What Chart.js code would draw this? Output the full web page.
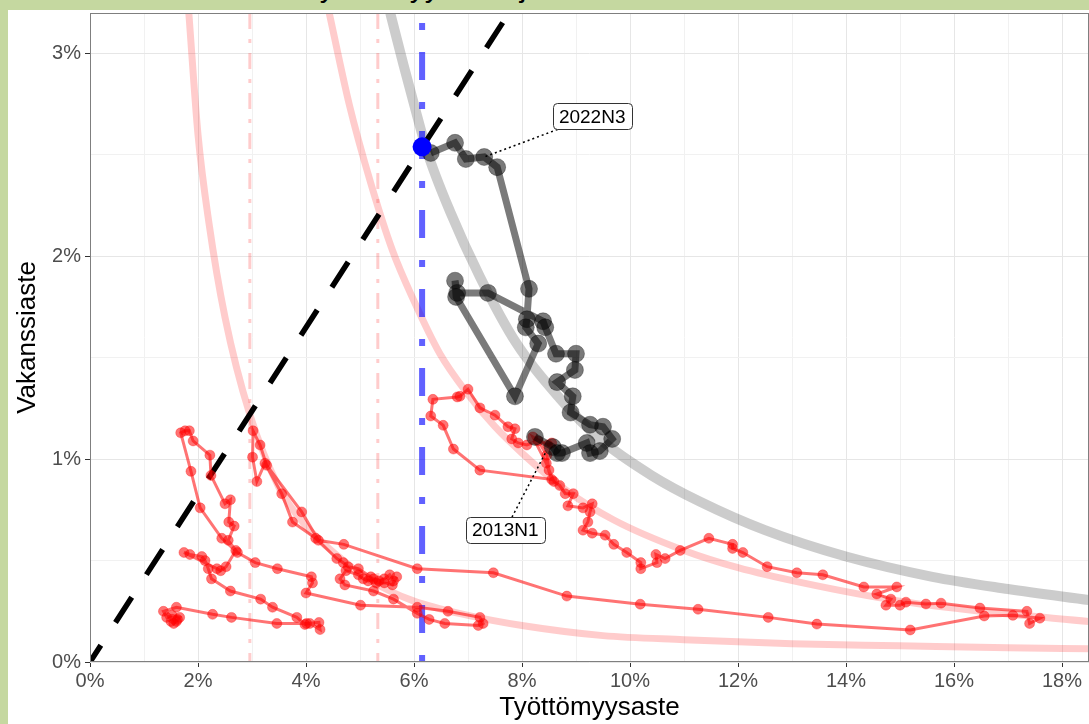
<!DOCTYPE html>
<html lang="fi">
<head>
<meta charset="UTF-8">
<title>Työttömyysaste ja vakanssiaste</title>
<style>
  html, body { margin: 0; padding: 0; }
  body {
    width: 1089px;
    height: 724px;
    overflow: hidden;
    position: relative;
    background: #c5d8a0;
    font-family: "Liberation Sans", Arial, sans-serif;
  }
  #title {
    position: absolute;
    left: 303px;
    top: -28px;
    font-size: 30px;
    line-height: 30px;
    white-space: nowrap;
    color: #000;
  }
  #frame {
    position: absolute;
    left: 8px;
    top: 10px;
    width: 1081px;
    height: 714px;
    background: #fff;
  }
</style>
<script src="https://cdn.jsdelivr.net/npm/chart.js"></script>
</head>
<body>
<div id="title">Työttömyysaste ja vakanssiaste</div>
<div id="frame"><canvas id="chart" width="1081" height="714"></canvas></div>
<script>
// axis ticks
const xTicks = [0, 1, 2, 3, 4, 5, 6, 7, 8, 9, 10, 11, 12, 13, 14, 15, 16, 17, 18];
const yTicks = [0, 0.5, 1, 1.5, 2, 2.5, 3];

// history (red), unemployment % and vacancy %
const redU = [1.62, 1.55, 1.5, 1.6, 1.66, 1.52, 1.42, 1.36, 1.6, 2.27, 2.62, 3.46, 4.01, 4.24, 4.26, 4.07, 3.98, 3.83, 3.38, 3.16,
  2.6, 2.25, 2.19, 2.13, 2.07, 1.85, 1.74, 2.35, 2.42, 2.52, 2.7, 2.56, 2.67, 2.57, 2.6, 2.5, 2.24, 2.22, 1.91, 1.84,
  1.76, 1.68, 1.87, 2.04, 2.44, 2.73, 3.06, 3.47, 4.1, 4.12, 4.0, 5.01, 6.06, 6.63, 7.22, 7.28, 7.19, 6.57, 6.28, 6.06,
  5.62, 5.25, 4.72, 4.63, 4.74, 4.97, 5.06, 5.15, 5.25, 5.35, 5.45, 5.55, 5.62, 5.68, 5.6, 5.45, 5.3, 5.2, 4.97, 4.78,
  4.69, 4.57, 4.18, 3.75, 3.55, 3.24, 3.09, 3.01, 3.02, 3.15, 3.27, 3.92, 4.23, 4.7, 6.06, 7.47, 8.83, 10.19, 11.26, 12.56,
  13.46, 15.19, 16.56, 17.09, 17.59, 17.4, 17.35, 16.48, 15.76, 15.48, 15.11, 15.0, 14.74, 14.83, 14.57, 14.94, 14.33, 13.57, 13.09, 12.54,
  12.09, 11.9, 11.9, 11.46, 10.93, 10.65, 10.48, 10.5, 10.2, 10.2, 9.94, 9.7, 9.54, 9.3, 9.13, 9.22, 9.26, 9.3, 9.13, 8.85,
  8.95, 8.8, 8.7, 8.59, 8.5, 8.46, 8.3, 8.09, 7.93, 7.81, 7.87, 7.74, 7.5, 7.22, 7.0, 6.85, 6.8, 6.35, 6.31, 6.54,
  6.73, 7.22, 8.55, 8.45, 8.2, 8.48, 8.55];
const redV = [0.21, 0.19, 0.2, 0.2, 0.22, 0.23, 0.22, 0.25, 0.27, 0.235, 0.22, 0.19, 0.19, 0.195, 0.16, 0.19, 0.185, 0.22, 0.27, 0.31,
  0.35, 0.41, 0.46, 0.5, 0.52, 0.53, 0.54, 0.46, 0.45, 0.47, 0.55, 0.6, 0.67, 0.69, 0.8, 0.78, 0.92, 1.02, 1.09, 1.14,
  1.14, 1.13, 0.94, 0.76, 0.61, 0.54, 0.49, 0.46, 0.42, 0.39, 0.34, 0.28, 0.27, 0.25, 0.22, 0.19, 0.18, 0.19, 0.21, 0.24,
  0.31, 0.35, 0.38, 0.41, 0.45, 0.43, 0.41, 0.4, 0.41, 0.4, 0.41, 0.43, 0.4, 0.42, 0.38, 0.39, 0.39, 0.42, 0.46, 0.47,
  0.49, 0.51, 0.61, 0.69, 0.83, 0.98, 0.89, 1.01, 1.14, 1.07, 0.97, 0.74, 0.6, 0.58, 0.46, 0.44, 0.325, 0.285, 0.26, 0.22,
  0.187, 0.158, 0.227, 0.23, 0.216, 0.19, 0.25, 0.266, 0.29, 0.286, 0.295, 0.28, 0.28, 0.31, 0.335, 0.37, 0.37, 0.43, 0.44, 0.47,
  0.54, 0.56, 0.58, 0.61, 0.55, 0.51, 0.53, 0.49, 0.46, 0.49, 0.54, 0.58, 0.625, 0.635, 0.65, 0.69, 0.74, 0.78, 0.76, 0.77,
  0.83, 0.83, 0.87, 0.89, 0.946, 1.02, 1.09, 1.07, 1.08, 1.1, 1.15, 1.16, 1.217, 1.253, 1.345, 1.31, 1.307, 1.295, 1.213, 1.167,
  1.05, 0.946, 0.9, 0.98, 1.11, 1.07, 1.08];

// 2013N1 onwards (black)
const blackU = [8.24, 8.57, 8.65, 8.74, 9.2, 9.26, 9.44, 9.67, 9.5, 9.26, 8.9, 8.94, 8.65, 8.98, 9.0, 8.63, 8.43, 8.39, 7.37, 6.8,
  6.76, 6.78, 7.87, 8.3, 8.07, 8.09, 8.13, 7.54, 7.3, 6.96, 6.76, 6.31];
const blackV = [1.11, 1.06, 1.03, 1.03, 1.08, 1.03, 1.04, 1.1, 1.16, 1.17, 1.23, 1.31, 1.38, 1.44, 1.52, 1.52, 1.65, 1.68, 1.82, 1.82,
  1.88, 1.8, 1.31, 1.57, 1.65, 1.69, 1.84, 2.44, 2.49, 2.48, 2.56, 2.51];

// latest observation (blue)
const nowU = [6.15];
const nowV = [2.54];

// reference curves
const curveLowU = [1.83, 2.0, 2.2, 2.5, 2.96, 3.5, 4.0, 4.6, 5.2, 6.0, 7.0, 8.0, 9.5, 11, 13, 15, 17, 18.5];
const curveLowV = [3.2, 2.6, 2.17, 1.7, 1.22, 0.86, 0.67, 0.52, 0.4, 0.3, 0.23, 0.18, 0.13, 0.11, 0.09, 0.08, 0.07, 0.065];
const curveMidU = [4.43, 4.8, 5.2, 5.6, 6.0, 6.48, 7.0, 7.5, 8.0, 8.8, 9.7, 11.0, 12.0, 13.2, 15.0, 16.5, 18.5];
const curveMidV = [3.2, 2.75, 2.36, 2.03, 1.78, 1.52, 1.32, 1.16, 1.03, 0.85, 0.7, 0.55, 0.465, 0.39, 0.3, 0.25, 0.2];
const curveHighU = [5.56, 5.8, 6.0, 6.24, 6.67, 7.22, 7.9, 8.7, 9.44, 10.4, 11.3, 12.5, 14.0, 15.6, 17.0, 18.5];
const curveHighV = [3.2, 2.95, 2.75, 2.52, 2.22, 1.9, 1.57, 1.3, 1.1, 0.92, 0.79, 0.65, 0.52, 0.42, 0.36, 0.305];

// ray through origin and the latest point
const guideU = [0, 8];
const guideV = [0, 3.3];

// vertical reference lines
const pinkRuleU = [2.96, 5.33];
const blueRuleU = [6.15];
const ruleSpanV = [3.2, 0];

// annotations
const labelTexts = ['2022N3', '2013N1'];
const labelPointU = [7.3, 8.45];
const labelPointV = [2.49, 1.04];
const labelBoxU = [9.3, 7.69];
const labelBoxV = [2.69, 0.65];

const FONT = '"Liberation Sans", Arial, sans-serif';
Chart.defaults.font.family = FONT;

const toXY = (us, vs) => us.map((u, i) => ({x: u, y: vs[i]}));
const rule = u => ruleSpanV.map(v => ({x: u, y: v}));

const curve = (us, vs, color, width) => ({
    data: toXY(us, vs),
    showLine: true,
    borderColor: color,
    borderWidth: width,
    pointRadius: 0,
    cubicInterpolationMode: 'monotone',
    clip: 0,
    order: 10
});

const panelBorder = {
    id: 'panelBorder',
    afterDatasetsDraw(chart) {
        const {ctx, chartArea: a} = chart;
        ctx.save();
        ctx.strokeStyle = '#7f7f7f';
        ctx.lineWidth = 1;
        ctx.strokeRect(a.left + 0.5, a.top + 0.5, a.right - a.left - 1, a.bottom - a.top - 1);
        ctx.restore();
    }
};

const pointLabels = {
    id: 'pointLabels',
    afterDatasetsDraw(chart) {
        const {ctx, scales: {x, y}} = chart;
        ctx.save();
        ctx.font = '19px ' + FONT;
        labelTexts.forEach((text, i) => {
            const px = x.getPixelForValue(labelPointU[i]);
            const py = y.getPixelForValue(labelPointV[i]);
            const bx = x.getPixelForValue(labelBoxU[i]);
            const by = y.getPixelForValue(labelBoxV[i]);
            const w = ctx.measureText(text).width + 12;
            const h = 26;
            // segment starts where the line to the point leaves the box
            const dx = px - bx, dy = py - by;
            const t = Math.min(Math.abs(w / 2 / dx), Math.abs(h / 2 / dy));
            ctx.strokeStyle = '#000';
            ctx.lineWidth = 1.5;
            ctx.setLineDash([2, 3]);
            ctx.beginPath();
            ctx.moveTo(bx + dx * t, by + dy * t);
            ctx.lineTo(px, py);
            ctx.stroke();
            ctx.setLineDash([]);
            ctx.fillStyle = '#fff';
            ctx.strokeStyle = '#333';
            ctx.lineWidth = 1;
            ctx.beginPath();
            ctx.roundRect(Math.round(bx - w / 2) + 0.5, Math.round(by - h / 2) + 0.5, Math.round(w), h, 4);
            ctx.fill();
            ctx.stroke();
            ctx.fillStyle = '#000';
            ctx.textAlign = 'center';
            ctx.textBaseline = 'middle';
            ctx.fillText(text, bx, by + 1);
        });
        ctx.restore();
    }
};

const tickOnly = (even) => ctx => (ctx.tick && even(ctx.tick.value)) ? '#333' : 'rgba(0,0,0,0)';
const gridTone = (even) => ctx => (ctx.tick && even(ctx.tick.value)) ? '#e6e6e6' : '#f1f1f1';
const xMajor = v => v % 2 === 0;
const yMajor = v => Number.isInteger(v);

new Chart(document.getElementById('chart'), {
    type: 'scatter',
    data: {
        datasets: [
            curve(curveLowU, curveLowV, 'rgba(255,0,0,0.2)', 7),
            curve(curveMidU, curveMidV, 'rgba(255,0,0,0.2)', 7),
            Object.assign(curve(curveHighU, curveHighV, 'rgba(0,0,0,0.2)', 10), {order: 9}),
            ...pinkRuleU.map(u => ({
                data: rule(u),
                showLine: true,
                borderColor: 'rgba(255,0,0,0.2)',
                borderWidth: 3,
                borderDash: [16, 10, 4, 10],
                pointRadius: 0,
                clip: 0,
                order: 8
            })),
            ...blueRuleU.map(u => ({
                data: rule(u),
                showLine: true,
                borderColor: 'rgba(0,0,255,0.62)',
                borderWidth: 6,
                borderDash: [28, 22, 7, 22],
                borderDashOffset: 40,
                pointRadius: 0,
                clip: 0,
                order: 7
            })),
            {
                data: toXY(guideU, guideV),
                showLine: true,
                borderColor: '#000',
                borderWidth: 5.5,
                borderDash: [30, 27],
                borderDashOffset: 10,
                pointRadius: 0,
                clip: 0,
                order: 6
            },
            {
                data: toXY(redU, redV),
                showLine: true,
                borderColor: 'rgba(255,0,0,0.55)',
                borderWidth: 3,
                pointRadius: 5,
                pointBackgroundColor: 'rgba(255,0,0,0.55)',
                pointBorderColor: 'rgba(255,0,0,0.3)',
                pointBorderWidth: 1,
                order: 5
            },
            {
                data: toXY(blackU, blackV),
                showLine: true,
                borderColor: 'rgba(0,0,0,0.52)',
                borderWidth: 7,
                pointRadius: 8.5,
                pointBackgroundColor: 'rgba(0,0,0,0.52)',
                pointBorderColor: 'rgba(0,0,0,0.3)',
                pointBorderWidth: 1,
                order: 4
            },
            {
                data: toXY(nowU, nowV),
                pointRadius: 9.5,
                pointBackgroundColor: '#0000ff',
                pointBorderColor: '#0000ff',
                pointBorderWidth: 0,
                order: 3
            }
        ]
    },
    options: {
        responsive: false,
        animation: false,
        events: [],
        layout: {autoPadding: false, padding: {top: 3, right: 0, bottom: 0, left: 0}},
        plugins: {legend: {display: false}, tooltip: {enabled: false}},
        scales: {
            x: {
                type: 'linear',
                min: 0,
                max: 18.5,
                afterBuildTicks: s => { s.ticks = xTicks.map(v => ({value: v})); },
                afterFit: s => { s.height = 62; s.paddingLeft = 0; s.paddingRight = 0; },
                ticks: {
                    callback: v => xMajor(v) ? v + '%' : '',
                    autoSkip: false,
                    maxRotation: 0,
                    color: '#4d4d4d',
                    font: {size: 20},
                    padding: 2
                },
                grid: {color: gridTone(xMajor), tickColor: tickOnly(xMajor), tickLength: 5},
                border: {display: false},
                title: {display: true, text: 'Työttömyysaste', color: '#000', font: {size: 26}, padding: {top: 0, bottom: 1}}
            },
            y: {
                type: 'linear',
                min: 0,
                max: 3.2,
                afterBuildTicks: s => { s.ticks = yTicks.map(v => ({value: v})); },
                afterFit: s => { s.width = 82; s.paddingTop = 0; s.paddingBottom = 0; },
                ticks: {
                    callback: v => yMajor(v) ? v + '%' : '',
                    autoSkip: false,
                    color: '#4d4d4d',
                    font: {size: 20},
                    padding: 4
                },
                grid: {color: gridTone(yMajor), tickColor: tickOnly(yMajor), tickLength: 5},
                border: {display: false},
                title: {display: true, text: 'Vakanssiaste', color: '#000', font: {size: 26}, padding: {top: 4, bottom: 0}}
            }
        }
    },
    plugins: [panelBorder, pointLabels]
});
</script>
</body>
</html>
